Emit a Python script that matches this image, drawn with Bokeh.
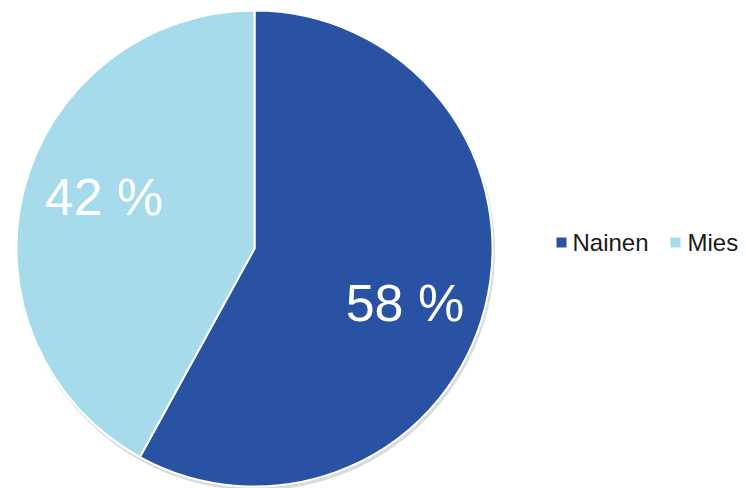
import math
from bokeh.plotting import figure
from bokeh.models import ColumnDataSource, Range1d
from bokeh.core.properties import value
from bokeh.embed import file_html
from bokeh.resources import INLINE

categories = ["Nainen", "Mies"]
shares = [58, 42]
labels = ["58 %", "42 %"]
colors = ["#2A52A3", "#A6DBEB"]

W, H = 746, 488
cx, cy, r = 254, H - 248, 238
FS = 52

# angles: start at top, go clockwise
total = sum(shares)
starts, ends = [], []
a = math.pi / 2
for s in shares:
    span = 2 * math.pi * s / total
    ends.append(a)
    starts.append(a - span)
    a -= span
lx, ly = [], []
for s0, e0 in zip(starts, ends):
    m = (s0 + e0) / 2 - math.radians(5)
    lx.append(cx + 0.67 * r * math.cos(m))
    ly.append(cy + 0.67 * r * math.sin(m) - 1.5)

src = ColumnDataSource(dict(cat=categories, start=starts, end=ends, color=colors,
                            label=labels, lx=lx, ly=ly))

p = figure(width=W, height=H, x_range=Range1d(0, W), y_range=Range1d(0, H),
           output_backend="svg", toolbar_location=None, min_border=0)
p.axis.visible = False
p.grid.visible = False
p.outline_line_color = None
p.background_fill_color = "white"

# soft shadow
p.circle(x=[cx + 1.5], y=[cy - 3], radius=r + 1, fill_color="#999999", fill_alpha=0.35,
         line_color=None)
p.wedge(x=cx, y=cy, radius=r, start_angle="start", end_angle="end", fill_color="color",
        line_color="white", line_width=2, source=src)
p.text(x="lx", y="ly", text="label", source=src, text_color="white",
       text_font=value("Liberation Sans"), text_font_size=f"{FS}px",
       text_align="center", text_baseline="middle")

# legend
sq_x = [561, 675]
tx = [572, 687]
p.rect(x=sq_x, y=[H - 242] * 2, width=10, height=10, fill_color=colors, line_color=None)
p.text(x=tx, y=[H - 241.5] * 2, text=categories, text_color="#1a1a1a",
       text_font=value("Liberation Sans"), text_font_size="24px",
       text_align="left", text_baseline="middle")

open("out.html", "w").write(file_html(p, INLINE))
